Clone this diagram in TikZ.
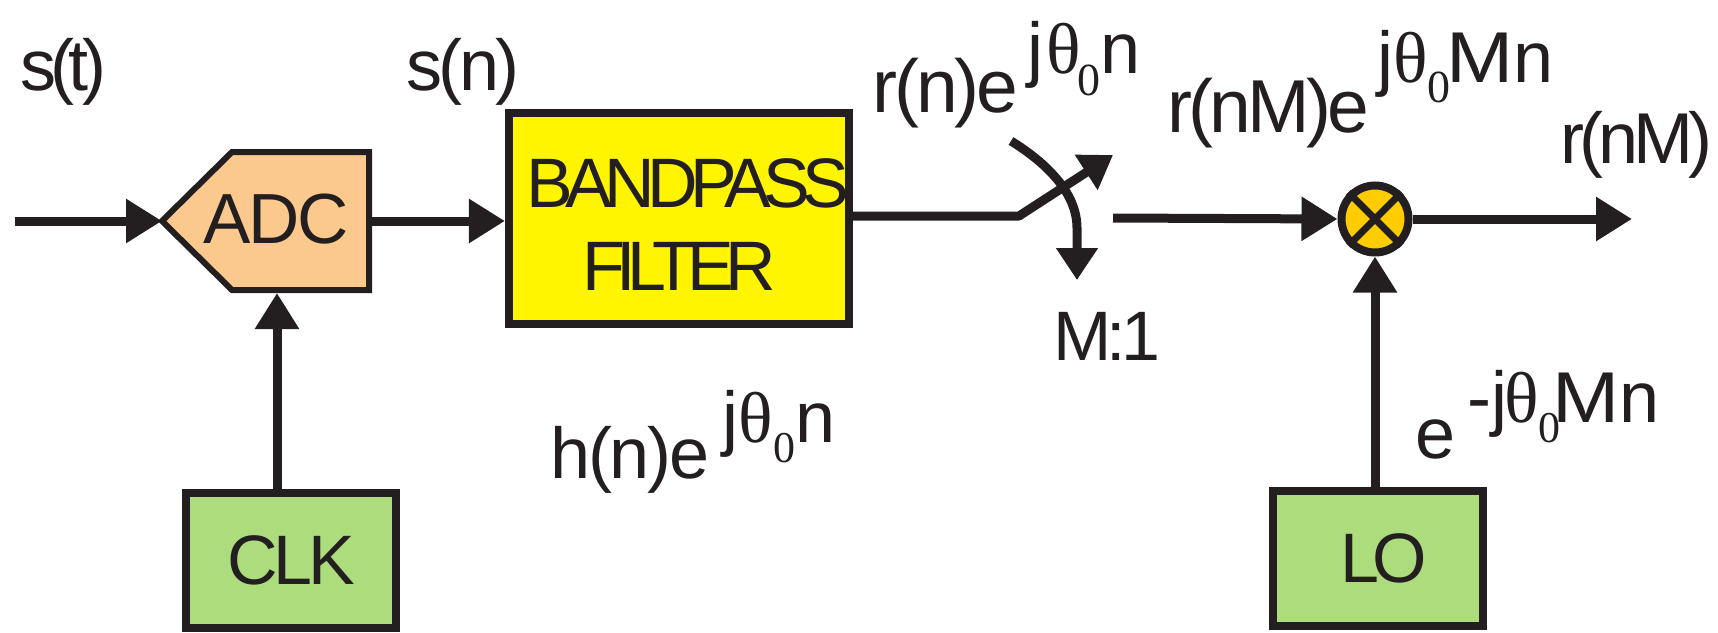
\documentclass[tikz,border=0pt]{standalone}
\usepackage{fontspec}
\usepackage{graphicx}
\setmainfont{Liberation Sans}
\newfontfamily\serf{Liberation Serif}
\usetikzlibrary{arrows.meta}
\definecolor{ink}{RGB}{35,31,32}
\definecolor{peach}{RGB}{251,201,142}
\definecolor{yel}{RGB}{255,245,0}
\definecolor{grn}{RGB}{173,220,125}
\definecolor{gold}{RGB}{255,204,0}
\newcommand\fs[1]{\fontsize{#1pt}{#1pt}\selectfont}
\newcommand\trk[1]{\addfontfeatures{LetterSpace=#1}}
\newcommand\WM{\scalebox{1.12}[1]{M}}
\newcommand\thet{{\serf θ}}
\newcommand\zr[2]{\raisebox{-#1pt}{\serf\fs{#2}0}}
\begin{document}
\begin{tikzpicture}[x=1pt,y=-1pt,
  ln/.style={line width=9pt, draw=ink},
  arr/.style={ln, -{Triangle[length=36pt,width=42pt]}},
  sarr/.style={ln, -{Triangle[length=32pt,width=40pt]}},
  box/.style={draw=ink, line width=8pt, inner sep=0pt},
  txt/.style={inner sep=0pt, text=ink, font=\fs{70}},
  lbl/.style={inner sep=0pt, text=ink, anchor=base west, font=\fs{72}},
]
\useasboundingbox (0,0) rectangle (1718,632);
% ADC
\coordinate (adcT) at (162,221);
\coordinate (adcNE) at (369,152);
\coordinate (adcSE) at (369,290);
\coordinate (adcE) at (369,221);
\coordinate (adcS) at (277,293);
\draw[draw=ink, fill=peach, line width=6pt, line join=miter] (adcT) -- (232,152) -- (adcNE) -- (adcSE) -- (232,290) -- cycle;
\node[txt, anchor=base, font=\fs{71}] (adc) at (276,243) {\trk{-3}ADC};
\coordinate (in) at (15,221);
\draw[arr] (in) -- (adcT);
% bandpass
\node[box, txt, fill=yel, minimum width=340pt, minimum height=211pt, align=center] (bpf) at (679,218.5) {\rule{0pt}{61pt}\trk{-11}\hspace*{18pt}BANDPASS\\[13pt]\trk{-12}FILTER};
\draw[arr] (adcE) -- (adcE -| bpf.west);
% switch
\coordinate (swA) at (1019,216);
\coordinate (swB) at (1113,155);
\coordinate (arcS) at (1011,141);
\coordinate (swD) at (1077,280);
\coordinate (swO) at (1113,218);
\draw[sarr, line join=bevel] (bpf.east |- swA) -- (swA) -- (swB);
\draw[sarr] (arcS) .. controls (1045,162) and (1077,192) .. (1077,228) -- (swD);
% mixer
\node[circle, draw=ink, fill=gold, line width=8pt, minimum size=67pt, inner sep=0pt] (mix) at (1375,219) {};
\draw[ink, line width=7pt] (mix.45) -- (mix.225) (mix.135) -- (mix.315);
\draw[arr] (swO) -- (mix.west);
\coordinate (out) at (1632,219);
\draw[arr] (mix.east) -- (out);
% LO and CLK
\node[box, txt, fill=grn, minimum width=210pt, minimum height=135pt] (lo) at (1378,558.5) {\hspace*{12pt}\trk{-10}LO};
\draw[arr] (lo.north -| mix.south) -- (mix.south);
\node[box, txt, fill=grn, minimum width=210pt, minimum height=135pt] (clk) at (291,560.5) {\trk{-6}CLK};
\draw[arr] (clk.north -| adcS) -- (adcS);
% labels
\node[lbl] (st) at (20,90) {\trk{-8}s(t)};
\node[lbl] (sn) at (406,90) {\trk{-5}s(n)};
\node[lbl, font=\fs{75}] (rn) at (872,112) {\trk{-4}r(n)e\hspace{9pt}\raisebox{39pt}{\fs{72}j\hspace{3pt}\thet\hspace{-4pt}\zr{22}{46}n}};
\node[lbl, font=\fs{75}] (rnm) at (1167,132) {\trk{-5}r(nM)e\hspace{8pt}\raisebox{50pt}{\fs{72}j\thet\zr{20}{46}\hspace{-4pt}\WM n}};
\node[lbl] (rout) at (1560,163) {\trk{-7}r(nM)};
\node[lbl, font=\fs{70}] (m1) at (1053,360) {\trk{-7}M:1};
\node[lbl] (hn) at (550,478) {\trk{-3}h(n)e\hspace{13pt}\raisebox{36pt}{\fs{72}j\thet\zr{20}{44}n}};
\node[lbl] (lo2) at (1415,458) {e\hspace{12pt}\raisebox{36pt}{\fs{72}-j\hspace{-3pt}\thet\zr{20}{44}\hspace{-8pt}\WM n}};
\end{tikzpicture}
\end{document}
